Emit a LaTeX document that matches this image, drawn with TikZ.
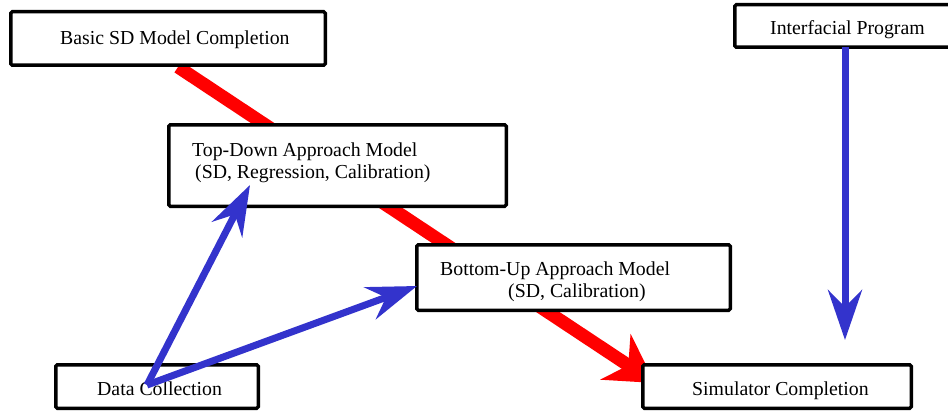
\documentclass[tikz,border=0pt]{standalone}
\usepackage{fontspec}
\setmainfont{Liberation Serif}
\usetikzlibrary{arrows.meta}
\definecolor{arrred}{RGB}{255,0,0}
\definecolor{arrblue}{RGB}{51,51,204}
\begin{document}
\begin{tikzpicture}[x=1pt,y=-1pt,
  box/.style={draw=black,line width=3.5pt,fill=white,rounded corners=1.5pt,inner sep=0pt},
  lbl/.style={anchor=base west,inner sep=0pt,font=\fontsize{19.8}{22}\selectfont},
  redarr/.style={draw=arrred,line width=13pt,-{Stealth[length=47pt,width=54pt,inset=15pt]}},
  bluearr/.style={draw=arrblue,line width=7pt,-{Stealth[length=50pt,width=34pt,inset=17pt]}}]
\useasboundingbox (0,0) rectangle (948,412);
% red path (behind boxes)
\coordinate (rs) at (178,67);
\coordinate (re) at (655,383);
\draw[redarr] (rs) -- (re);
% boxes
\node[box,minimum width=314.5pt,minimum height=53.5pt] (basic) at (168,38.5) {};
\node[box,minimum width=218.5pt,minimum height=42.5pt] (interf) at (844,26) {};
\node[box,minimum width=337.5pt,minimum height=81.5pt] (td) at (337.5,165.5) {};
\node[box,minimum width=313.5pt,minimum height=65.5pt] (bu) at (573.5,277.5) {};
\node[box,minimum width=202.5pt,minimum height=43.5pt] (dc) at (157,386.5) {};
\node[box,minimum width=268.5pt,minimum height=43.5pt] (sim) at (777,386.5) {};
% texts
\node[lbl] (tbasic) at (60,45) {Basic SD Model Completion};
\node[lbl] (tinterf) at (770,35) {Interfacial Program};
\node[lbl] (ttd1) at (192,156) {Top-Down Approach Model};
\node[lbl] (ttd2) at (195,178) {(SD, Regression, Calibration)};
\node[lbl] (tbu1) at (440,275) {Bottom-Up Approach Model};
\node[lbl] (tbu2) at (508,297) {(SD, Calibration)};
\node[lbl] (tdc) at (97,395) {Data Collection};
\node[lbl] (tsim) at (692,395) {Simulator Completion};
% blue arrows
\coordinate (ds) at (147,385);
\coordinate (tdtip) at (250,185);
\coordinate (butip) at (417,286);
\coordinate (is) at (845,47);
\coordinate (itip) at (845,340);
\draw[bluearr] (ds) -- (tdtip);
\draw[bluearr] (ds) -- (butip);
\draw[bluearr] (is) -- (itip);
\end{tikzpicture}
\end{document}
